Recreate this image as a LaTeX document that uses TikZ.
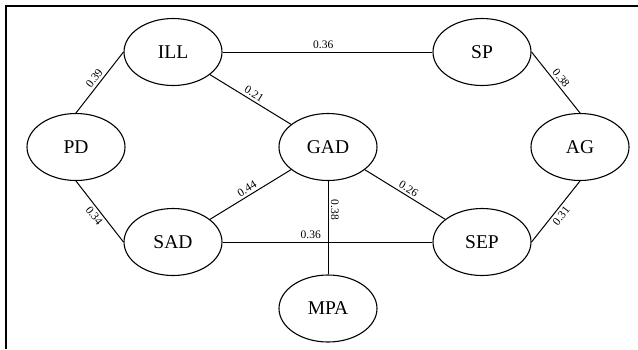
\documentclass[tikz,border=0pt]{standalone}
\usepackage{fontspec}
\setmainfont{Liberation Serif}
\usetikzlibrary{shapes.geometric}
\begin{document}
\begin{tikzpicture}[x=1pt,y=-1pt,
  var/.style={ellipse,draw,line width=1.1pt,minimum width=98pt,minimum height=67pt,inner sep=0pt,font=\fontsize{19.5}{22}\selectfont},
  edge/.style={line width=1pt},
  wt/.style={font=\fontsize{11.5}{13}\selectfont,inner sep=2.5pt,sloped}]
\useasboundingbox (0,0) rectangle (638,349);
\draw[line width=1.2pt] (6,349) -- (6,6) -- (638,6);
\node[var] (ILL) at (173,52) {ILL};
\node[var] (SP)  at (482,52) {SP};
\node[var] (PD)  at (76,147) {PD};
\node[var] (GAD) at (328,147) {GAD};
\node[var] (AG)  at (580,147) {AG};
\node[var] (SAD) at (173,242) {SAD};
\node[var] (SEP) at (482,242) {SEP};
\node[var] (MPA) at (328,308.5) {MPA};
\draw[edge] (PD.north) -- node[wt,midway,above] {0.39} (ILL.west);
\draw[edge] (ILL.east) -- node[wt,pos=0.48,above] {0.36} (SP.west);
\draw[edge] (SP.east) -- node[wt,midway,above] {0.38} (AG.north);
\draw[edge] (PD.south) -- node[wt,midway,below] {0.34} (SAD.west);
\draw[edge] (SEP.east) -- node[wt,midway,below] {0.31} (AG.south);
\draw[edge] (ILL) -- node[wt,midway,above] {0.21} (GAD);
\draw[edge] (SAD) -- node[wt,midway,above] {0.44} (GAD);
\draw[edge] (GAD) -- node[wt,midway,above] {0.26} (SEP);
\draw[edge] (GAD.south) -- node[wt,pos=0.31,above] {0.38} (MPA.north);
\draw[edge] (SAD.east) -- node[wt,pos=0.42,above] {0.36} (SEP.west);
\end{tikzpicture}
\end{document}
